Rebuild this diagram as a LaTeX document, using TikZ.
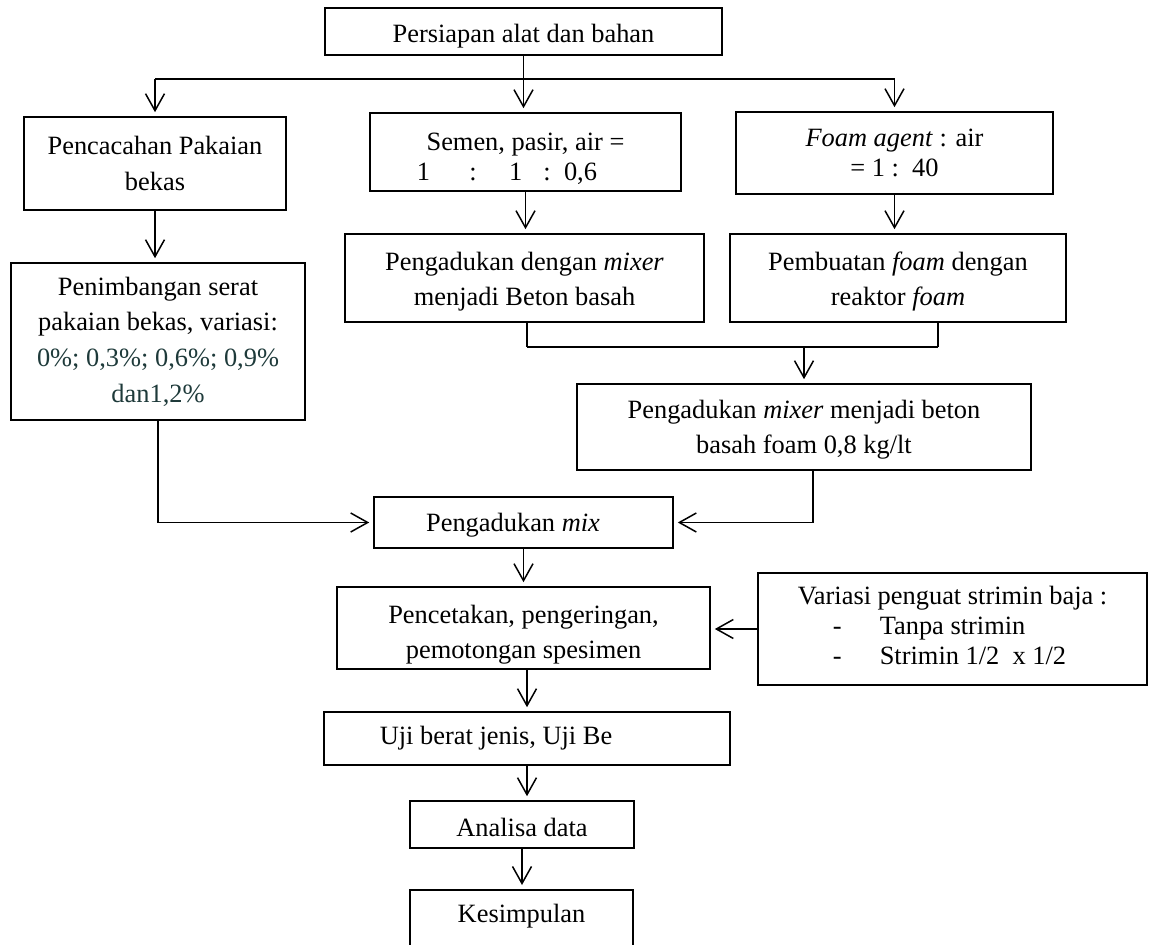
\documentclass[tikz,border=0pt]{standalone}
\usepackage{fontspec}
\setmainfont{Liberation Serif}
\usetikzlibrary{arrows.meta,calc}
\definecolor{tealtext}{RGB}{30,58,58}
\begin{document}
\begin{tikzpicture}[x=0.5pt,y=-0.5pt,
  box/.style={draw, line width=0.8pt, inner sep=0pt, align=center,
    font=\fontsize{13.2pt}{17.8pt}\selectfont},
  tight/.style={font=\fontsize{13.2pt}{15pt}\selectfont},
  arr/.style={-{Straight Barb[length=8.5pt,width=9.5pt,line width=0.75pt]}, line width=0.75pt, shorten >=2pt},
  ln/.style={line width=0.75pt},
  bar/.style={line width=1.1pt}]
\useasboundingbox (0,0) rectangle (1149,945);

\node[box, minimum width=198.5pt, minimum height=23.5pt] (top) at (523.5,31.5) {\rule{0pt}{14pt}Persiapan alat dan bahan};
\node[box, minimum width=131pt, minimum height=46.5pt] (cacah) at (155,163.5) {Pencacahan Pakaian\\bekas};
\node[box, tight, minimum width=155.5pt, minimum height=39pt] (semen) at (525.5,152)
  {\rule{0pt}{16pt}Semen, pasir, air =\\1\hspace{19.6pt}:\hspace{16.2pt}1\hspace{10.5pt}:\hspace{6.7pt}0,6\makebox[18.5pt]{}};
\node[box, tight, minimum width=158.5pt, minimum height=41pt] (fagent) at (894.5,153)
  {\textit{Foam agent} : air\\= 1 :\ \ 40};
\node[box, minimum width=179.5pt, minimum height=44pt] (mixer) at (524.5,278)
  {\rule{0pt}{13pt}Pengadukan dengan \textit{mixer}\\menjadi Beton basah};
\node[box, minimum width=168pt, minimum height=44pt] (foam) at (898,278)
  {\rule{0pt}{13pt}Pembuatan \textit{foam} dengan\\reaktor \textit{foam}};
\node[box, minimum width=147pt, minimum height=78.5pt] (timbang) at (158,341.5)
  {Penimbangan serat\\pakaian bekas, variasi:\\\textcolor{tealtext}{0\%; 0,3\%; 0,6\%; 0,9\%}\\\textcolor{tealtext}{dan1,2\%}};
\node[box, minimum width=227pt, minimum height=43pt] (beton) at (804,427)
  {\rule{0pt}{12pt}Pengadukan \textit{mixer} menjadi beton\\basah foam 0,8 kg/lt};
\node[box, minimum width=149.5pt, minimum height=25.5pt] (mix) at (523.5,522.5)
  {\rule{0pt}{12pt}Pengadukan \textit{mix}\makebox[10.5pt]{}};
\node[box, minimum width=186.5pt, minimum height=41pt] (cetak) at (523.5,628)
  {\rule{0pt}{16pt}Pencetakan, pengeringan,\\pemotongan spesimen};
\node[box, tight, align=left, minimum width=194.5pt, minimum height=56pt] (variasi) at (952.5,629)
  {Variasi penguat strimin baja :\\\hspace*{17.5pt}\makebox[23.5pt][l]{-}Tanpa strimin\\\hspace*{17.5pt}\makebox[23.5pt][l]{-}Strimin 1/2\ \ x 1/2\rule[-4pt]{0pt}{0pt}};
\node[box, minimum width=203pt, minimum height=26.5pt] (uji) at (527,738.5)
  {Uji berat jenis, Uji Be\makebox[31pt]{}};
\node[box, minimum width=112pt, minimum height=23.5pt] (analisa) at (522,824.5) {\rule{0pt}{12pt}Analisa data};
\node[box, anchor=north, minimum width=111.5pt] (simpul) at (521.5,889)
  {\rule[-30pt]{0pt}{46.5pt}Kesimpulan};

% top distribution
\coordinate (jl) at (155,79);
\coordinate (jr) at (894.5,79);
\draw[bar] (jl) -- (jr);
\draw[arr] (top.south) -- (top.south |- semen.north);
\draw[arr] (jl) -- (cacah.north);
\draw[arr] (jr) -- (fagent.north);

\draw[arr] (semen.south) -- (semen.south |- mixer.north);
\draw[arr] (fagent.south) -- (fagent.south |- foam.north);
\draw[arr] (cacah.south) -- (cacah.south |- timbang.north);

% merge of mixer and foam
\coordinate (ml) at (527,347);
\coordinate (mr) at (938,347);
\draw[ln] (mixer.south -| ml) -- (ml);
\draw[ln] (foam.south -| mr) -- (mr);
\draw[bar] (ml) -- (mr);
\draw[arr] (beton.north |- ml) -- (beton.north);

% into mix
\draw[arr] (timbang.south) |- (mix.west);
\coordinate (bt) at (813,470);
\draw[arr] (beton.south -| bt) |- (mix.east);

\draw[arr] (mix.south) -- (mix.south |- cetak.north);
\draw[arr] (variasi.west) -- (cetak.east |- variasi.west);
\draw[arr] (cetak.south -| uji.north) -- (uji.north);
\draw[arr] (uji.south) -- (uji.south |- analisa.north);
\draw[arr] (analisa.south) -- (analisa.south |- simpul.north);
\end{tikzpicture}
\end{document}
